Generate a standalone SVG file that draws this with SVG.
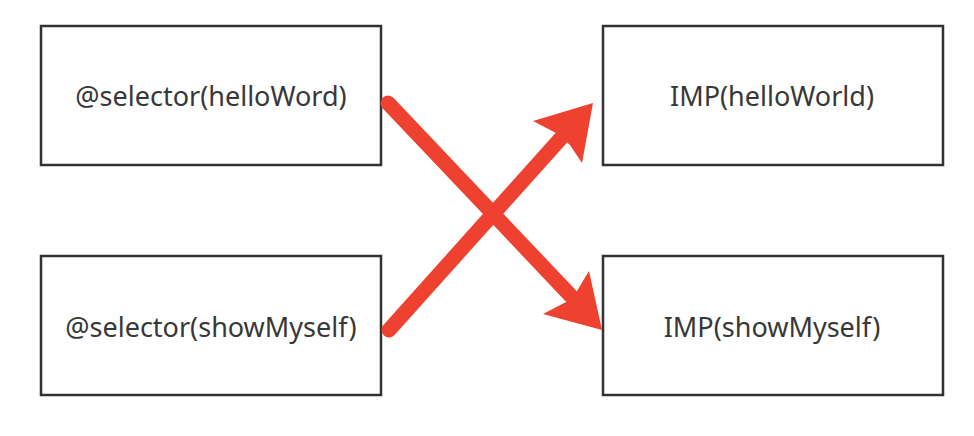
<svg xmlns="http://www.w3.org/2000/svg" width="974" height="436" viewBox="0 0 974 436">
<style>
.box{fill:#fff;stroke:#333;stroke-width:2.5}
.lbl{font-family:"Noto Sans","Open Sans",sans-serif;font-size:27px;fill:#383838;text-anchor:middle}
.arr{fill:#ee4130}
</style>
<rect width="974" height="436" fill="#fff"/>
<g id="sel-hello"><rect class="box" x="41" y="26" width="340" height="139"/><text class="lbl" x="211" y="106">@selector(helloWord)</text></g>
<g id="sel-show"><rect class="box" x="41" y="256" width="340" height="139"/><text class="lbl" x="211" y="337">@selector(showMyself)</text></g>
<g id="imp-hello"><rect class="box" x="603" y="26" width="340" height="139"/><text class="lbl" x="772" y="106">IMP(helloWorld)</text></g>
<g id="imp-show"><rect class="box" x="603" y="256" width="340" height="139"/><text class="lbl" x="772" y="337">IMP(showMyself)</text></g>
<g id="connectors">
<line x1="388" y1="103" x2="570" y2="295" stroke="#ee4130" stroke-width="15" stroke-linecap="round"/>
<polygon class="arr" points="602,330 543,314 566,302 577,291 589,271"/>
<line x1="389" y1="330" x2="562" y2="137" stroke="#ee4130" stroke-width="15" stroke-linecap="round"/>
<polygon class="arr" points="593,103 582,163 570,145 556,133 533,121"/>
</g>
</svg>
